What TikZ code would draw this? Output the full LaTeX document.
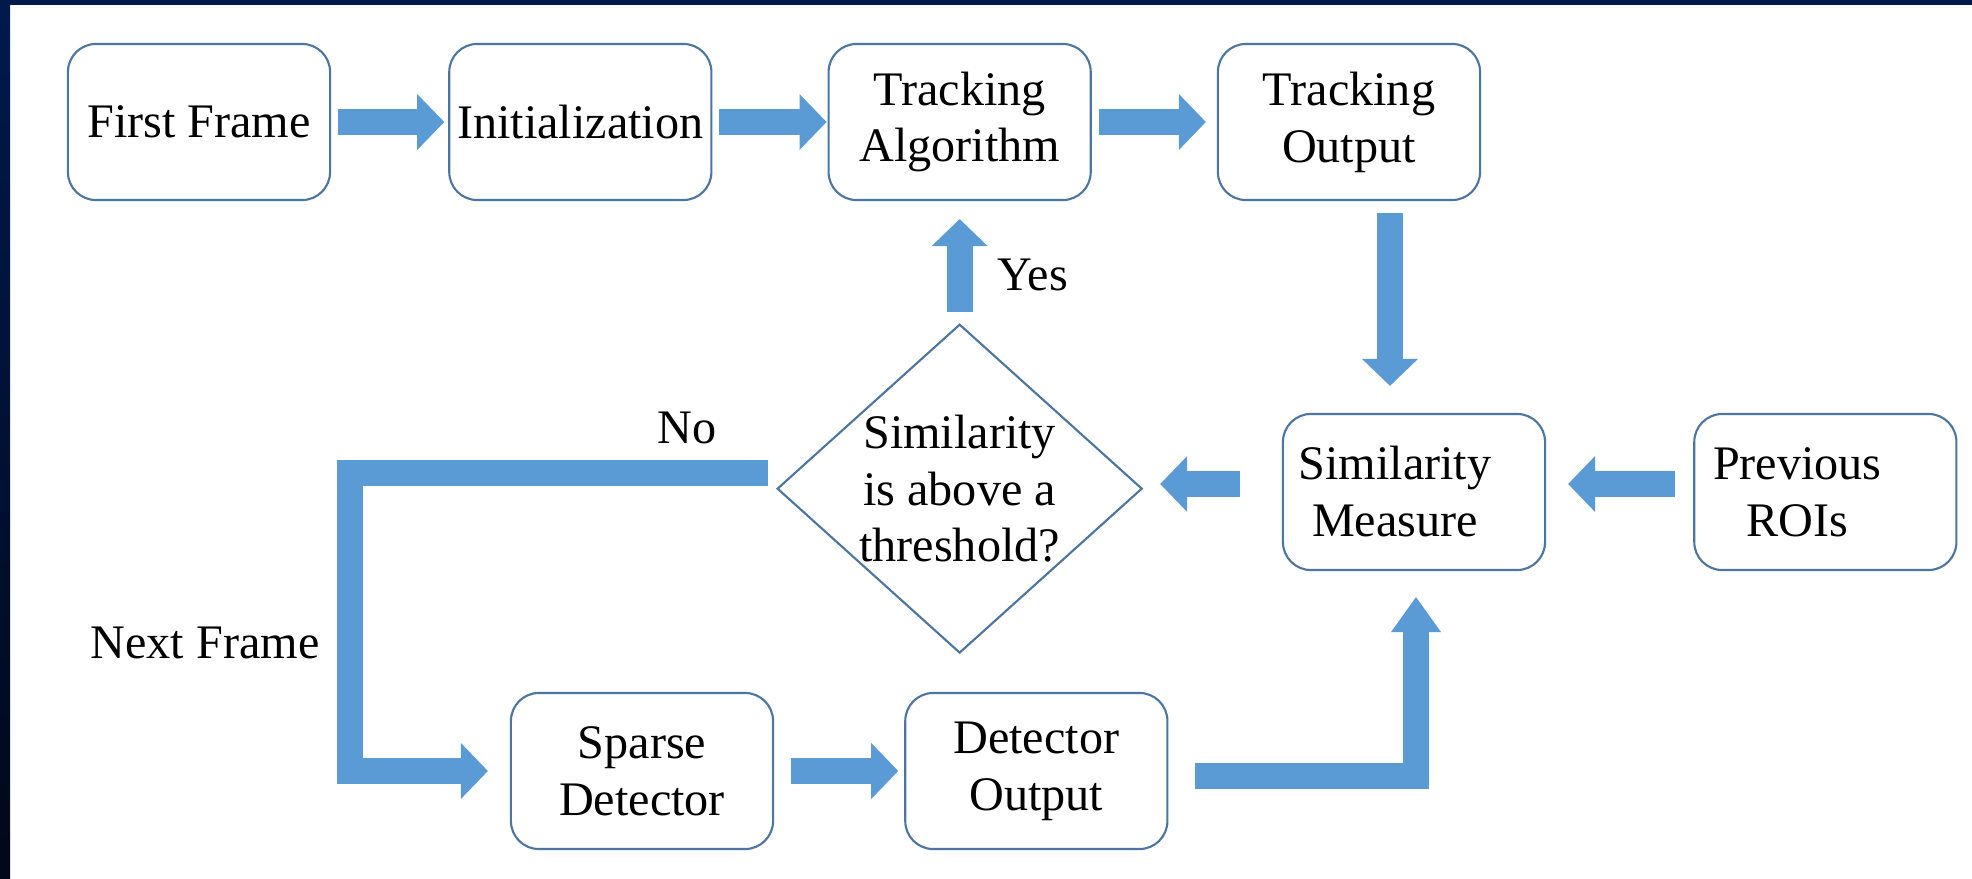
\documentclass[tikz,border=0pt]{standalone}
\usepackage{fontspec}
\setmainfont{Liberation Serif}
\usepackage{tikz}
\usetikzlibrary{positioning}
\usetikzlibrary{shapes.geometric}
\usetikzlibrary{arrows.meta}

\definecolor{slide}{RGB}{0,26,77}
\definecolor{slidedark}{RGB}{0,8,26}
\definecolor{flowblue}{RGB}{91,155,213}
\definecolor{boxline}{RGB}{76,118,160}

\tikzset{
  stage/.style={draw=boxline, line width=0.6pt, rounded corners=0.28cm, fill=white,
    minimum width=2.62cm, minimum height=1.56cm, inner sep=2pt, align=center},
  decision/.style={diamond, draw=boxline, line width=0.6pt, fill=white,
    minimum width=3.64cm, minimum height=3.28cm, inner sep=0pt, shape aspect=1.11, align=center},
  fatarrow/.style={draw=flowblue, line width=0.26cm,
    -{Triangle[width=0.56cm,length=0.27cm,line width=0pt]}},
  note/.style={anchor=base west, inner sep=0pt}
}

\begin{document}
\begin{tikzpicture}[x=0.01cm,y=-0.01cm,font=\fontsize{13.7}{16.2}\selectfont]
	\useasboundingbox (0,0) rectangle (1972,879);
	\fill[white] (0,0) rectangle (1972,879);
	\shade[top color=slide, bottom color=slidedark] (0,0) rectangle (10,879);
	\fill[slide] (0,0) rectangle (1972,5);

	% top row
	\node[stage] (first) at (199,122) {First Frame};
	\node[stage, right=1.17cm of first] (init) {Initialization};
	\node[stage, right=1.15cm of init] (track) {Tracking\\Algorithm};
	\node[stage, right=1.25cm of track] (tout) {Tracking\\Output};

	% middle row
	\node[decision, below=1.22cm of track] (simq) {Similarity\\is above a\\threshold?};
	\node[stage] (sim) at (1414,492) {Similarity\hspace*{0.38cm}\\Measure\hspace*{0.38cm}};
	\node[stage, right=1.47cm of sim] (prev) {Previous\hspace*{0.56cm}\\ROIs\hspace*{0.56cm}};

	% bottom row
	\node[stage] (sparse) at (642,771) {Sparse\\Detector};
	\node[stage, right=1.3cm of sparse] (dout) {Detector\\Output};

	\node[note] (yes) at (997,291) {Yes};
	\node[note] (no) at (657,443) {No};
	\node[note] (next) at (90,658) {Next Frame};
	\coordinate (loop) at (350,600);

	\draw[fatarrow] ([shift={(7,0)}]first.east) -- ([shift={(-4,0)}]init.west);
	\draw[fatarrow] ([shift={(7,0)}]init.east) -- ([shift={(-1,0)}]track.west);
	\draw[fatarrow] ([shift={(7,0)}]track.east) -- ([shift={(-11,0)}]tout.west);
	\draw[fatarrow, shorten >=0.27cm] ([shift={(41,12)}]tout.south) coordinate (drop) -- (drop |- sim.north);
	\draw[fatarrow] ([shift={(-18,-8)}]prev.west) -- ([shift={(22,-8)}]sim.east);
	\draw[fatarrow] ([shift={(-42,-8)}]sim.west) coordinate (back) -- ([shift={(17,0)}]simq.east |- back);
	\draw[fatarrow, shorten >=0.18cm] ([shift={(0,-11)}]simq.north) -- (track.south);
	\draw[fatarrow] ([shift={(-8,-16)}]simq.west) -| (loop) |- ([shift={(-22,0)}]sparse.west);
	\draw[fatarrow] ([shift={(17,0)}]sparse.east) -- ([shift={(-6,0)}]dout.west);
	\draw[fatarrow, -{Triangle[width=0.5cm,length=0.35cm,line width=0pt]}]
		([shift={(27,5)}]dout.east) -| ([shift={(2,26)}]sim.south);
\end{tikzpicture}
\end{document}
